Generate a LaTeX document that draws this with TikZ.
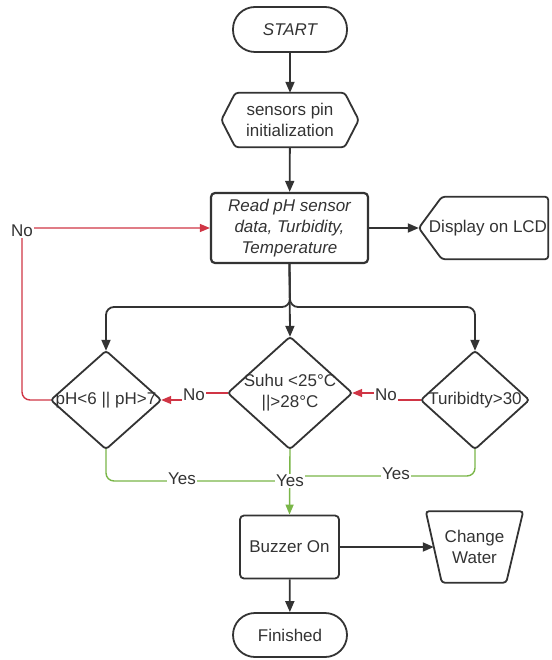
\documentclass[tikz,border=0pt]{standalone}
\usepackage{fontspec}
\setmainfont{Liberation Sans}
\usetikzlibrary{arrows.meta}
\definecolor{dk}{HTML}{333333}
\definecolor{rd}{HTML}{D03545}
\definecolor{gn}{HTML}{7AB648}
\begin{document}
\begin{tikzpicture}[x=1pt,y=-1pt,
  every node/.style={font=\fontsize{17}{21}\selectfont, text=dk, inner sep=0pt, align=center},
  box/.style={draw=dk, line width=1.8pt, rectangle},
  frame/.style={rectangle, draw=none},
  outline/.style={draw=dk, line width=1.8pt, rounded corners=3pt},
  arr/.style={draw=dk, line width=1.8pt, -{Triangle[length=11pt,width=9pt]}},
  noline/.style={draw=rd, line width=1.4pt},
  noarr/.style={noline, -{Triangle[length=10pt,width=8pt]}},
  yesline/.style={draw=gn, line width=1.4pt},
  yesarr/.style={yesline, -{Triangle[length=10pt,width=8pt]}},
  lbl/.style={fill=white, inner sep=1pt}]
\useasboundingbox (0,0) rectangle (551,660);
% nodes
\node[box, rounded corners=22pt, minimum width=114pt, minimum height=45pt] (start) at (290,29.5) {\itshape START};
\node[frame, minimum width=137pt, minimum height=54pt] (init) at (290,120) {sensors pin\\initialization};
\draw[outline] (init.west) -- ([xshift=14pt]init.north west) -- ([xshift=-14pt]init.north east) -- (init.east) -- ([xshift=-14pt]init.south east) -- ([xshift=14pt]init.south west) -- cycle;
\node[box, line width=2.2pt, rounded corners=4pt, minimum width=157pt, minimum height=70pt] (read) at (289.5,228) {\itshape Read pH sensor\\\itshape data, Turbidity,\\\itshape Temperature};
\node[frame, minimum width=129pt, minimum height=62pt] (lcd) at (483.5,228) {\hspace*{9pt}Display on LCD};
\draw[outline] (lcd.west) -- ([xshift=23pt]lcd.north west) -- (lcd.north east) -- (lcd.south east) -- ([xshift=23pt]lcd.south west) -- cycle;
\node[frame, minimum width=110pt, minimum height=98pt] (ph) at (106,400) {pH<6 || pH>7};
\draw[outline] (ph.north) -- (ph.east) -- (ph.south) -- (ph.west) -- cycle;
\node[frame, minimum width=124pt, minimum height=112pt] (suhu) at (290,393) {Suhu <25°C\\||>28°C};
\draw[outline] (suhu.north) -- (suhu.east) -- (suhu.south) -- (suhu.west) -- cycle;
\node[frame, minimum width=108pt, minimum height=98pt] (turb) at (475,400) {Turibidty>30};
\draw[outline] (turb.north) -- (turb.east) -- (turb.south) -- (turb.west) -- cycle;
\node[box, rounded corners=4pt, minimum width=99pt, minimum height=63pt] (buzz) at (289.5,547) {Buzzer On};
\node[frame, minimum width=97pt, minimum height=71pt] (cw) at (474.5,547) {Change\\Water};
\draw[outline] (cw.north west) -- (cw.north east) -- ([xshift=-17pt]cw.south east) -- ([xshift=16pt]cw.south west) -- cycle;
\node[box, rounded corners=22pt, minimum width=114pt, minimum height=44pt] (fin) at (290,635) {Finished};
% black connectors
\draw[arr] (start) -- (init);
\draw[arr] (init) -- (read);
\draw[arr] (read.east) -- (lcd.west);
\draw[arr] (read.south) -- (suhu.north);
\draw[arr, rounded corners=8pt] (read.south) -- (290,307) -| (ph.north);
\draw[arr, rounded corners=8pt] (read.south) -- (290,307) -| (turb.north);
\draw[arr] (buzz) -- (fin);
\draw[arr] (buzz.east) -- ([xshift=8pt]cw.west);
% No connectors
\draw[noarr] (suhu.west) -- (194,393) -- (194,400) -- (ph.east);
\node[lbl] (no1) at (194,395) {No};
\draw[noarr] (turb.west) -- (386,400) -- (386,393) -- (suhu.east);
\node[lbl] (no2) at (386,395) {No};
\draw[noarr, rounded corners=8pt] (ph.west) -| (22,228) -- (read.west);
\node[lbl] (no3) at (22,231) {No};
% Yes connectors
\draw[yesline, rounded corners=8pt] (ph.south) |- (290,481);
\draw[yesline, rounded corners=8pt] (turb.south) |- (290,476);
\draw[yesarr] (suhu.south) -- (buzz.north);
\node[lbl] (y1) at (182,479) {Yes};
\node[lbl] (y2) at (290,481) {Yes};
\node[lbl] (y3) at (396,474) {Yes};
\end{tikzpicture}
\end{document}
